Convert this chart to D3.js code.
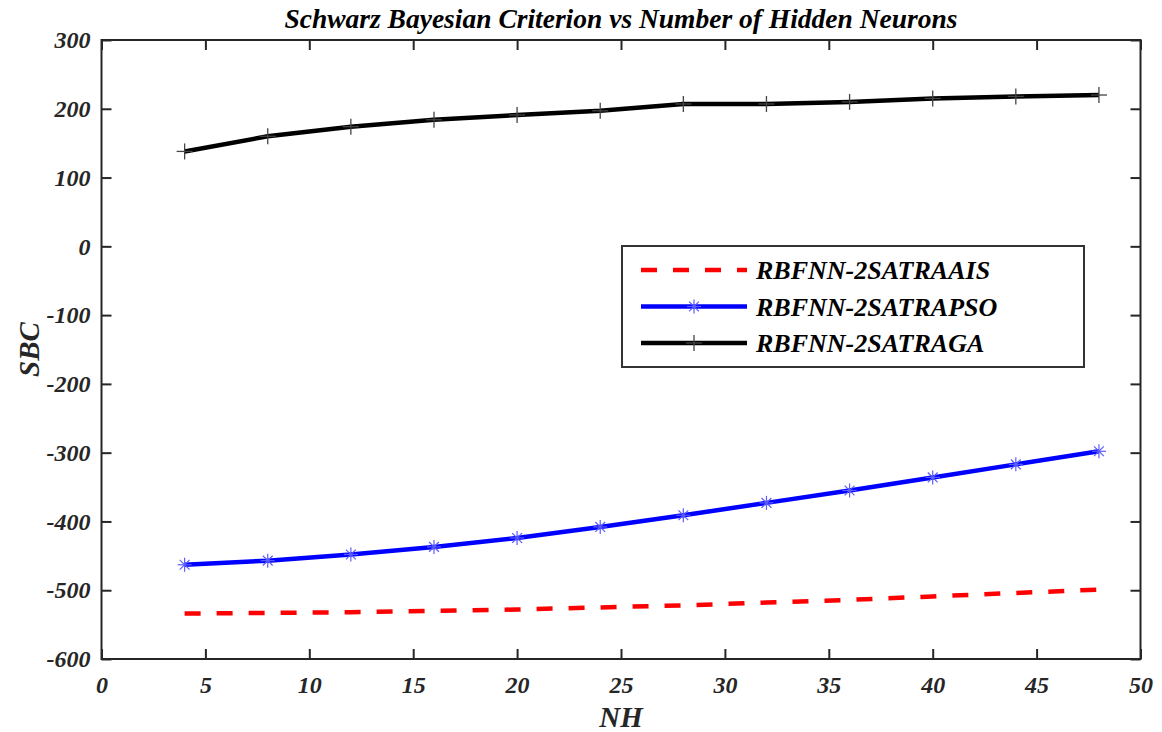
<!DOCTYPE html>
<html>
<head>
<meta charset="utf-8">
<script src="https://cdn.jsdelivr.net/npm/d3@7"></script>
<style>
  body { margin: 0; background: #fff; }
  text { font-family: "Liberation Serif", "Times New Roman", serif; font-weight: bold; font-style: italic; }
</style>
</head>
<body>
<div id="container"></div>
<script>
let nh = [4, 8, 12, 16, 20, 24, 28, 32, 36, 40, 44, 48],
  aais = [-534, -533, -532, -530, -528, -525, -522, -518, -514, -509, -504, -499],
  pso = [-463, -457, -448, -437, -424, -408, -391, -373, -355, -336, -317, -298],
  ga = [138, 160, 174, 184, 191, 197, 207, 207, 210, 215, 218, 220],
  x_ticks = [0, 5, 10, 15, 20, 25, 30, 35, 40, 45, 50],
  y_ticks = [300, 200, 100, 0, -100, -200, -300, -400, -500, -600],
  series_names = ['RBFNN-2SATRAAIS', 'RBFNN-2SATRAPSO', 'RBFNN-2SATRAGA']

let width = 1162,
  height = 732,
  padding = { top: 40, left: 101.5, bottom: 73, right: 21.5 },
  w = width - padding.left - padding.right,
  h = height - padding.top - padding.bottom

let svg = d3.select('#container')
  .append('svg')
  .attr('width', width)
  .attr('height', height)

let g = svg.append('g')
  .attr('transform', 'translate(' + padding.left + ',' + padding.top + ')')

let scale_x = d3.scaleLinear().domain([0, 50]).range([0, w])
let scale_y = d3.scaleLinear().domain([-600, 300]).range([h, 0])

// plain hyphen for negatives, like the original
let fmt = function (d) { return String(d) }

// axes, ticks pointing inward on all four sides
let ax_color = '#262626'
let tick_len = 10
g.append('g').attr('transform', 'translate(0,' + h + ')')
  .call(d3.axisBottom(scale_x).tickValues(x_ticks).tickFormat(fmt).tickSizeInner(-tick_len).tickSizeOuter(0).tickPadding(17))
g.append('g')
  .call(d3.axisTop(scale_x).tickValues(x_ticks).tickSizeInner(-tick_len).tickSizeOuter(0).tickFormat(''))
g.append('g')
  .call(d3.axisLeft(scale_y).tickValues(y_ticks).tickFormat(fmt).tickSizeInner(-tick_len).tickSizeOuter(0).tickPadding(11))
g.append('g').attr('transform', 'translate(' + w + ',0)')
  .call(d3.axisRight(scale_y).tickValues(y_ticks).tickSizeInner(-tick_len).tickSizeOuter(0).tickFormat(''))

g.selectAll('.domain').remove()
g.selectAll('.tick line').attr('stroke', ax_color).attr('stroke-width', 2)
g.selectAll('.tick text').attr('fill', ax_color).style('font-size', '24px')

g.append('rect')
  .attr('width', w).attr('height', h)
  .attr('fill', 'none').attr('stroke', ax_color).attr('stroke-width', 2)

let line_generator = d3.line()
  .x(function (d, i) { return scale_x(nh[i]) })
  .y(function (d) { return scale_y(d) })

// AAIS red dashed
g.append('path')
  .attr('d', line_generator(aais))
  .attr('fill', 'none').attr('stroke', '#ff0000').attr('stroke-width', 4.5)
  .attr('stroke-dasharray', '16,16')

// PSO blue with asterisks
g.append('path')
  .attr('d', line_generator(pso))
  .attr('fill', 'none').attr('stroke', '#0000ff').attr('stroke-width', 4.5)

function star(sel, s) {
  let a = s * 0.7
  sel.append('line').attr('x1', -s).attr('x2', s).attr('y1', 0).attr('y2', 0)
  sel.append('line').attr('x1', 0).attr('x2', 0).attr('y1', -s).attr('y2', s)
  sel.append('line').attr('x1', -a).attr('x2', a).attr('y1', -a).attr('y2', a)
  sel.append('line').attr('x1', -a).attr('x2', a).attr('y1', a).attr('y2', -a)
}
function plus(sel, s) {
  sel.append('line').attr('x1', -s).attr('x2', s).attr('y1', 0).attr('y2', 0)
  sel.append('line').attr('x1', 0).attr('x2', 0).attr('y1', -s).attr('y2', s)
}

g.selectAll('.pso-mark')
  .data(pso).enter().append('g')
  .attr('class', 'pso-mark')
  .attr('transform', function (d, i) { return 'translate(' + scale_x(nh[i]) + ',' + scale_y(d) + ')' })
  .attr('stroke', '#5c5cff').attr('stroke-width', 1.2)
  .each(function () { star(d3.select(this), 7) })

// GA black with plus
g.append('path')
  .attr('d', line_generator(ga))
  .attr('fill', 'none').attr('stroke', '#000').attr('stroke-width', 4.5)

g.selectAll('.ga-mark')
  .data(ga).enter().append('g')
  .attr('class', 'ga-mark')
  .attr('transform', function (d, i) { return 'translate(' + scale_x(nh[i]) + ',' + scale_y(d) + ')' })
  .attr('stroke', '#444').attr('stroke-width', 1.3)
  .each(function () { plus(d3.select(this), 8) })

// legend
let lg = svg.append('g').attr('transform', 'translate(622,246)')
lg.append('rect')
  .attr('width', 462).attr('height', 121)
  .attr('fill', '#fff').attr('stroke', '#333').attr('stroke-width', 2)

let leg_colors = ['#ff0000', '#0000ff', '#000']
series_names.forEach(function (name, i) {
  let y = 24 + i * 36.5
  let ln = lg.append('line')
    .attr('x1', 19).attr('x2', 125).attr('y1', y).attr('y2', y)
    .attr('stroke', leg_colors[i]).attr('stroke-width', 4.5)
  if (i === 0) ln.attr('stroke-dasharray', '16,16')
  let m = lg.append('g').attr('transform', 'translate(72,' + y + ')')
  if (i === 1) { m.attr('stroke', '#5c5cff').attr('stroke-width', 1.2); star(m, 7) }
  if (i === 2) { m.attr('stroke', '#444').attr('stroke-width', 1.3); plus(m, 8) }
  lg.append('text')
    .attr('x', 134).attr('y', y + 9)
    .style('font-size', '26px').attr('fill', '#000')
    .text(name)
})

// titles
svg.append('text')
  .attr('x', padding.left + w / 2).attr('y', 28)
  .attr('text-anchor', 'middle').style('font-size', '27.5px')
  .text('Schwarz Bayesian Criterion vs Number of Hidden Neurons')

svg.append('text')
  .attr('x', padding.left + w / 2).attr('y', 727)
  .attr('text-anchor', 'middle').style('font-size', '29px').attr('fill', ax_color)
  .text('NH')

svg.append('text')
  .attr('transform', 'translate(39,' + (padding.top + h / 2) + ') rotate(-90)')
  .attr('text-anchor', 'middle').style('font-size', '29px').attr('fill', ax_color)
  .text('SBC')
</script>
</body>
</html>
